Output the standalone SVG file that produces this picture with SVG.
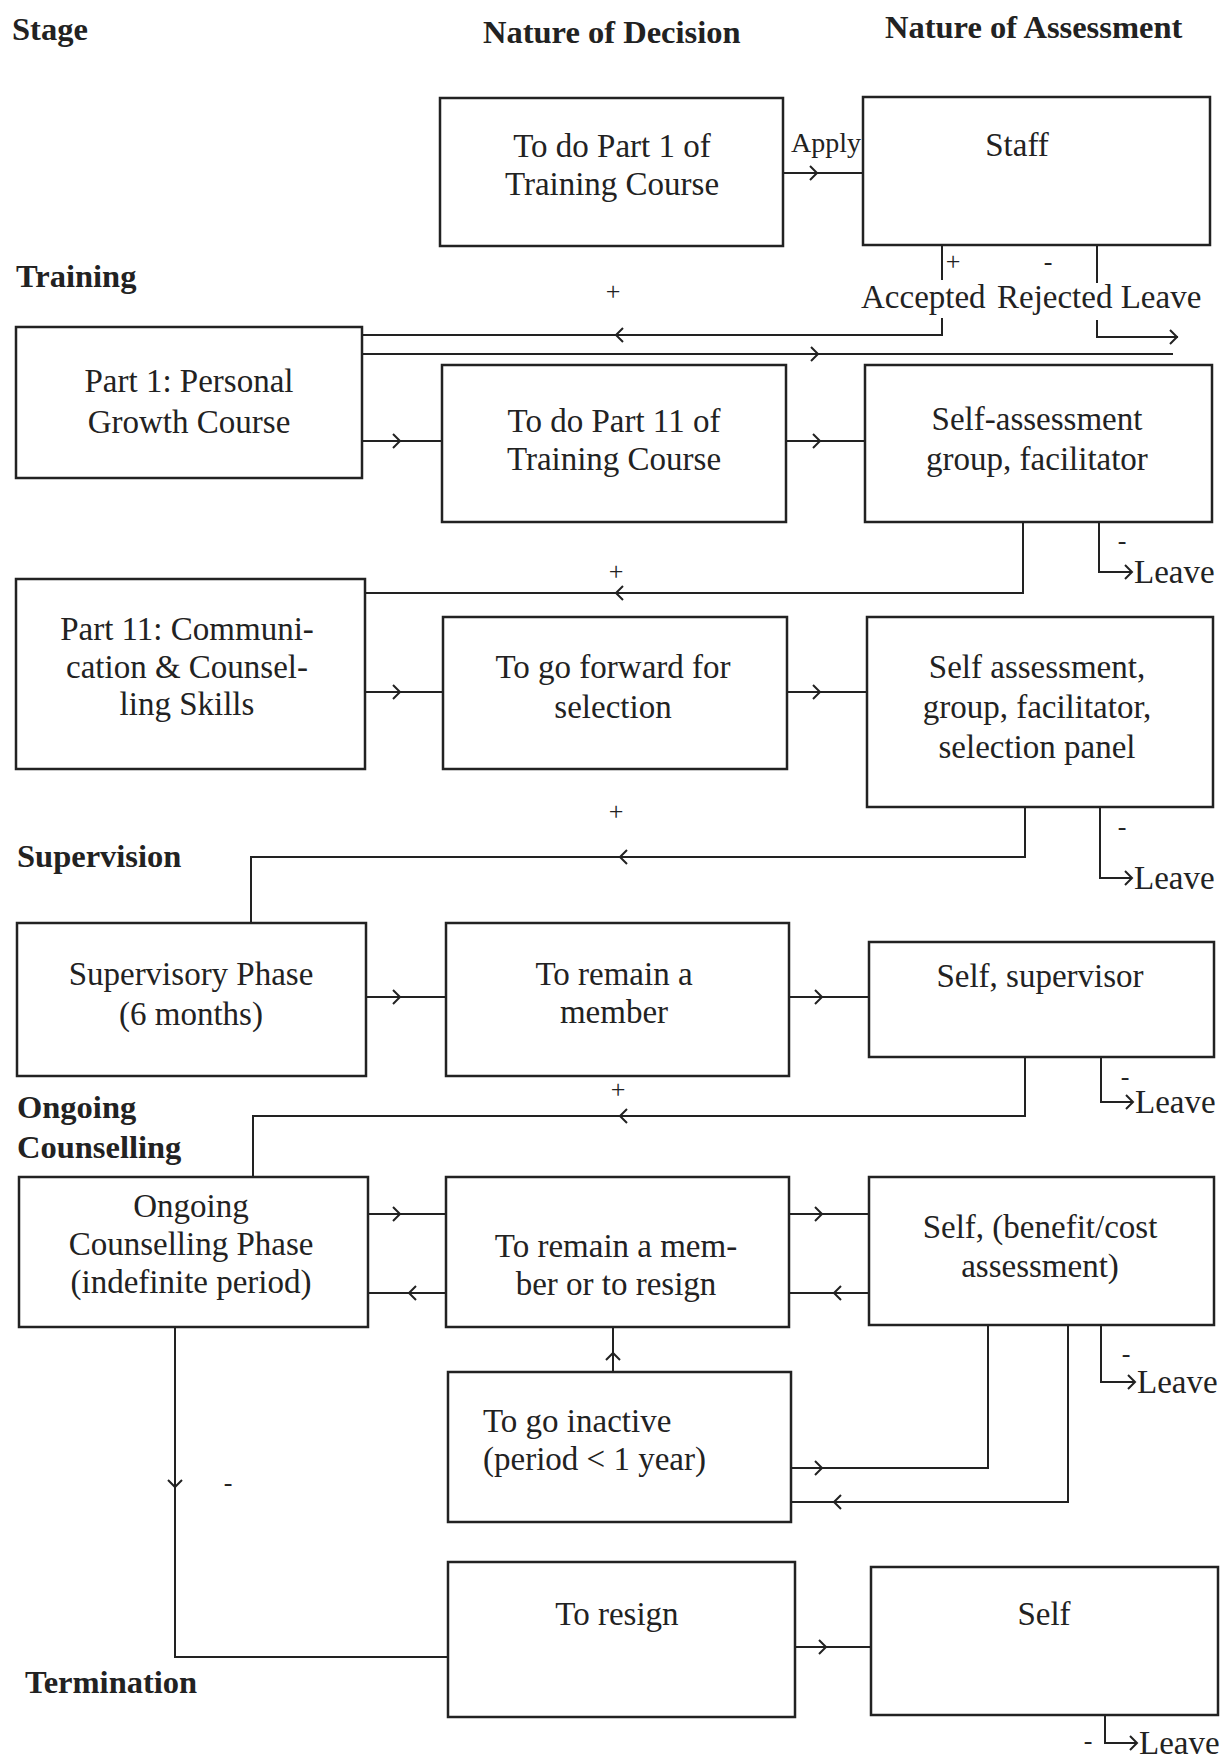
<svg xmlns="http://www.w3.org/2000/svg" xmlns:xlink="http://www.w3.org/1999/xlink" width="1222" height="1758" viewBox="0 0 1222 1758">
<style>
.bx{fill:#fff;stroke:#222;stroke-width:2.5}
.ln{fill:none;stroke:#222;stroke-width:2}
.t{font-family:"Liberation Serif","Times New Roman",serif;font-size:33px;fill:#222;text-anchor:middle}
.tl{font-family:"Liberation Serif","Times New Roman",serif;font-size:33px;fill:#222}
.h{font-family:"Liberation Serif","Times New Roman",serif;font-size:32.5px;font-weight:bold;fill:#222}
.s{font-family:"Liberation Serif","Times New Roman",serif;font-size:26px;fill:#222;text-anchor:middle}
</style>
<defs>
<path id="ch" d="M-7,-7 L0,0 L-7,7" fill="none" stroke="#222" stroke-width="2"/>
</defs>
<rect width="1222" height="1758" fill="#fff"/>
<g id="headers">
<text class="h" x="12" y="40">Stage</text>
<text class="h" x="483" y="43">Nature of Decision</text>
<text class="h" x="885" y="38">Nature of Assessment</text>
<text class="h" x="16" y="287">Training</text>
<text class="h" x="17" y="867">Supervision</text>
<text class="h" x="17" y="1118">Ongoing</text>
<text class="h" x="17" y="1158">Counselling</text>
<text class="h" x="25" y="1693">Termination</text>
</g>
<g id="connectors">
<path class="ln" d="M783,173H863"/><use xlink:href="#ch" transform="translate(817,173)"/>
<path class="ln" d="M942,245V280M942,318V335H362"/><use xlink:href="#ch" transform="translate(616,335) rotate(180)"/>
<path class="ln" d="M1097,245V283M1097,320V337H1178"/><use xlink:href="#ch" transform="translate(1177,337)"/>
<path class="ln" d="M362,354H1173"/><use xlink:href="#ch" transform="translate(818,354)"/>
<path class="ln" d="M362,441H442"/><use xlink:href="#ch" transform="translate(400,441)"/>
<path class="ln" d="M786,441H865"/><use xlink:href="#ch" transform="translate(820,441)"/>
<path class="ln" d="M1023,522V593H365"/><use xlink:href="#ch" transform="translate(616,593) rotate(180)"/>
<path class="ln" d="M1099,522V572H1132"/><use xlink:href="#ch" transform="translate(1132,572)"/>
<path class="ln" d="M365,692H443"/><use xlink:href="#ch" transform="translate(400,692)"/>
<path class="ln" d="M787,692H867"/><use xlink:href="#ch" transform="translate(820,692)"/>
<path class="ln" d="M1025,807V857H251V923"/><use xlink:href="#ch" transform="translate(620,857) rotate(180)"/>
<path class="ln" d="M1100,807V878H1132"/><use xlink:href="#ch" transform="translate(1132,878)"/>
<path class="ln" d="M366,997H446"/><use xlink:href="#ch" transform="translate(400,997)"/>
<path class="ln" d="M789,997H869"/><use xlink:href="#ch" transform="translate(822,997)"/>
<path class="ln" d="M1025,1057V1116H253V1177"/><use xlink:href="#ch" transform="translate(620,1116) rotate(180)"/>
<path class="ln" d="M1101,1057V1102H1133"/><use xlink:href="#ch" transform="translate(1133,1102)"/>
<path class="ln" d="M368,1214H446"/><use xlink:href="#ch" transform="translate(400,1214)"/>
<path class="ln" d="M446,1293H368"/><use xlink:href="#ch" transform="translate(409,1293) rotate(180)"/>
<path class="ln" d="M789,1214H869"/><use xlink:href="#ch" transform="translate(822,1214)"/>
<path class="ln" d="M869,1293H789"/><use xlink:href="#ch" transform="translate(834,1293) rotate(180)"/>
<path class="ln" d="M613,1372V1327"/><use xlink:href="#ch" transform="translate(613,1353) rotate(-90)"/>
<path class="ln" d="M791,1468H988V1325"/><use xlink:href="#ch" transform="translate(822,1468)"/>
<path class="ln" d="M1068,1325V1502H791"/><use xlink:href="#ch" transform="translate(834,1502) rotate(180)"/>
<path class="ln" d="M1101,1325V1382H1135"/><use xlink:href="#ch" transform="translate(1135,1382)"/>
<path class="ln" d="M175,1327V1657H448"/><use xlink:href="#ch" transform="translate(175,1487) rotate(90)"/>
<path class="ln" d="M795,1647H871"/><use xlink:href="#ch" transform="translate(826,1647)"/>
<path class="ln" d="M1105,1715V1743H1137"/><use xlink:href="#ch" transform="translate(1137,1743)"/>
</g>
<g id="labels">
<text class="tl" x="791" y="152" style="font-size:28px">Apply</text>
<text class="s" x="953" y="270">+</text>
<text class="s" x="1048" y="270">-</text>
<text class="tl" x="861" y="308">Accepted</text>
<text class="tl" x="997" y="308">Rejected Leave</text>
<text class="s" x="613" y="300">+</text>
<text class="s" x="1122" y="549">-</text>
<text class="tl" x="1134" y="583">Leave</text>
<text class="s" x="616" y="580">+</text>
<text class="s" x="616" y="820">+</text>
<text class="s" x="1122" y="835">-</text>
<text class="tl" x="1134" y="889">Leave</text>
<text class="s" x="618" y="1098">+</text>
<text class="s" x="1125" y="1085">-</text>
<text class="tl" x="1135" y="1113">Leave</text>
<text class="s" x="1126" y="1362">-</text>
<text class="tl" x="1137" y="1393">Leave</text>
<text class="s" x="228" y="1491">-</text>
<text class="s" x="1088" y="1749">-</text>
<text class="tl" x="1139" y="1754">Leave</text>
</g>
<g id="nA"><rect class="bx" x="440" y="98" width="343" height="148"/><text class="t" x="612" y="157">To do Part 1 of</text><text class="t" x="612" y="195">Training Course</text></g>
<g id="nStaff"><rect class="bx" x="863" y="97" width="347" height="148"/><text class="t" x="1017" y="156">Staff</text></g>
<g id="nPart1"><rect class="bx" x="16" y="327" width="346" height="151"/><text class="t" x="189" y="392">Part 1: Personal</text><text class="t" x="189" y="433">Growth Course</text></g>
<g id="nB"><rect class="bx" x="442" y="365" width="344" height="157"/><text class="t" x="614" y="432">To do Part 11 of</text><text class="t" x="614" y="470">Training Course</text></g>
<g id="nC"><rect class="bx" x="865" y="365" width="347" height="157"/><text class="t" x="1037" y="430">Self-assessment</text><text class="t" x="1037" y="470">group, facilitator</text></g>
<g id="nPart11"><rect class="bx" x="16" y="579" width="349" height="190"/><text class="t" x="187" y="640">Part 11: Communi-</text><text class="t" x="187" y="678">cation &amp; Counsel-</text><text class="t" x="187" y="715">ling  Skills</text></g>
<g id="nD"><rect class="bx" x="443" y="617" width="344" height="152"/><text class="t" x="613" y="678">To go forward for</text><text class="t" x="613" y="718">selection</text></g>
<g id="nE"><rect class="bx" x="867" y="617" width="346" height="190"/><text class="t" x="1037" y="678">Self assessment,</text><text class="t" x="1037" y="718">group, facilitator,</text><text class="t" x="1037" y="758">selection panel</text></g>
<g id="nSup"><rect class="bx" x="17" y="923" width="349" height="153"/><text class="t" x="191" y="985">Supervisory Phase</text><text class="t" x="191" y="1025">(6 months)</text></g>
<g id="nF"><rect class="bx" x="446" y="923" width="343" height="153"/><text class="t" x="614" y="985">To remain a</text><text class="t" x="614" y="1023">member</text></g>
<g id="nG"><rect class="bx" x="869" y="942" width="345" height="115"/><text class="t" x="1040" y="987">Self, supervisor</text></g>
<g id="nH"><rect class="bx" x="19" y="1177" width="349" height="150"/><text class="t" x="191" y="1217">Ongoing</text><text class="t" x="191" y="1255">Counselling Phase</text><text class="t" x="191" y="1293">(indefinite  period)</text></g>
<g id="nI"><rect class="bx" x="446" y="1177" width="343" height="150"/><text class="t" x="616" y="1257">To remain a mem-</text><text class="t" x="616" y="1295">ber or to resign</text></g>
<g id="nJ"><rect class="bx" x="869" y="1177" width="345" height="148"/><text class="t" x="1040" y="1238">Self, (benefit/cost</text><text class="t" x="1040" y="1277">assessment)</text></g>
<g id="nK"><rect class="bx" x="448" y="1372" width="343" height="150"/><text class="tl" x="483" y="1432">To go inactive</text><text class="tl" x="483" y="1470">(period &lt; 1 year)</text></g>
<g id="nL"><rect class="bx" x="448" y="1562" width="347" height="155"/><text class="t" x="617" y="1625">To resign</text></g>
<g id="nM"><rect class="bx" x="871" y="1567" width="347" height="148"/><text class="t" x="1044" y="1625">Self</text></g>
</svg>
